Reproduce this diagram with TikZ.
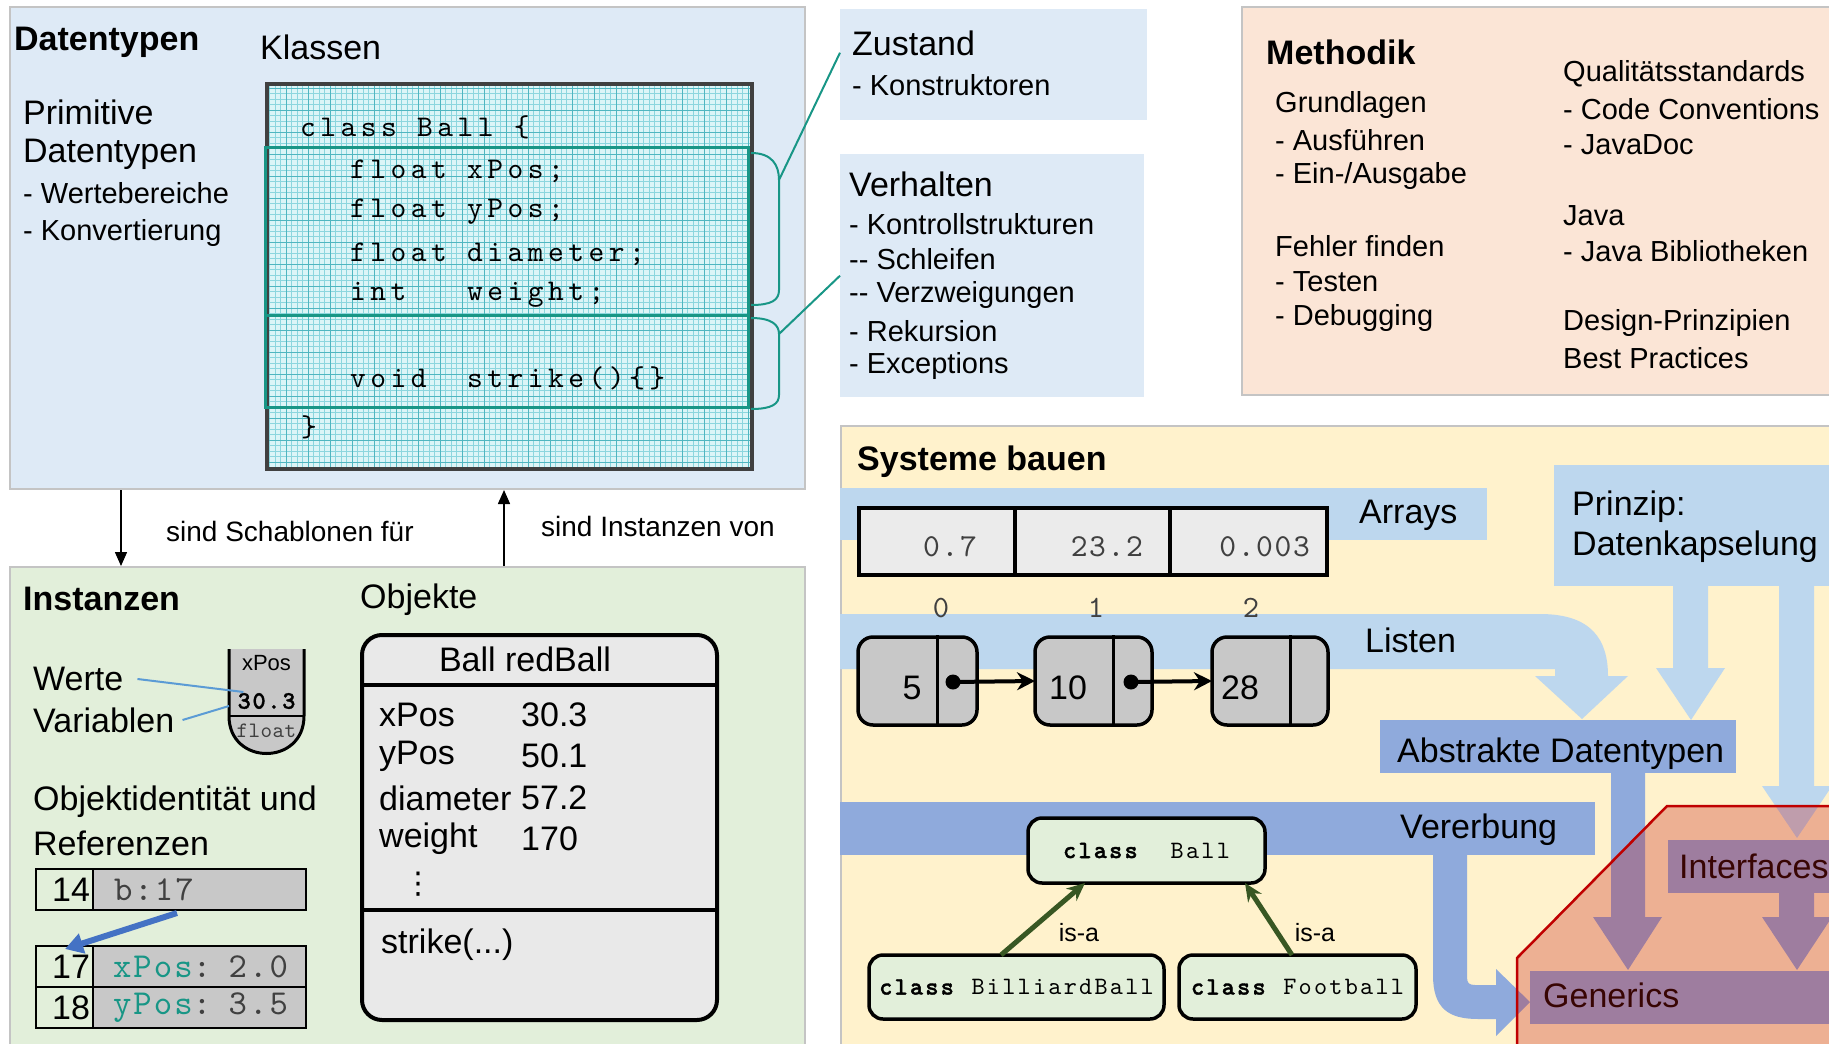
\documentclass[tikz,border=0pt]{standalone}
\usepackage{fontspec}
\setmainfont{Liberation Sans}
\newfontfamily\codefont{lmmono10-regular.otf}[BoldFont=lmmonolt10-bold.otf, BoldFeatures={FakeBold=1.5}]
\newfontfamily\symbolfont{DejaVu Sans}
\usetikzlibrary{arrows.meta,positioning}

\definecolor{panelblue}{RGB}{222,234,246}
\definecolor{panelgreen}{RGB}{226,239,218}
\definecolor{panelpeach}{RGB}{251,229,214}
\definecolor{panelyellow}{RGB}{255,242,204}
\definecolor{panelrand}{RGB}{196,196,196}
\definecolor{bandlight}{RGB}{189,215,238}
\definecolor{banddark}{RGB}{143,170,220}
\definecolor{gridbg}{RGB}{220,245,247}
\definecolor{gridminor}{RGB}{140,214,222}
\definecolor{gridmajor}{RGB}{80,182,192}
\definecolor{tealline}{RGB}{24,150,134}
\definecolor{zellgrau}{RGB}{200,200,200}
\definecolor{objgrau}{RGB}{233,233,233}
\definecolor{arrgrau}{RGB}{235,235,235}
\definecolor{isagruen}{RGB}{56,87,35}
\definecolor{refblau}{RGB}{68,114,196}
\definecolor{linieblau}{RGB}{91,155,213}
\definecolor{rotrand}{RGB}{192,0,0}
\definecolor{rotfill}{RGB}{196,18,11}
\definecolor{codegrau}{RGB}{64,64,64}

\newcommand\gross{\fontsize{34}{40}\selectfont}
\newcommand\mittel{\fontsize{29}{35}\selectfont}
\newcommand\codeschrift[2]{\codefont\fontsize{#1}{#1}\selectfont\addfontfeature{LetterSpace=#2}}

\tikzset{
  panel/.style={draw=panelrand, line width=2pt, anchor=north west, inner sep=0pt},
  txt/.style={anchor=west, inner sep=0pt, font=\gross},
  sub/.style={anchor=west, inner sep=0pt, font=\mittel},
  kopf/.style={anchor=west, inner sep=0pt, font=\gross\bfseries},
  codezeile/.style={anchor=west, inner sep=0pt, font={\codeschrift{30}{15}}},
  zelladr/.style={draw, line width=2.5pt, anchor=north west, minimum height=41pt, outer sep=0pt,
    text width=51pt, inner xsep=3pt, inner ysep=0pt, align=right, font=\gross},
  zellwert/.style={draw, fill=zellgrau, line width=2.5pt, minimum height=41pt, outer sep=0pt,
    text width=213pt, inner xsep=0pt, inner ysep=0pt, align=left, font={\codeschrift{35}{6}}},
  arrzelle/.style={draw, fill=arrgrau, line width=4pt, anchor=north west, minimum height=67pt,
    inner sep=0pt, outer sep=0pt},
  listknoten/.style={draw, fill=zellgrau, line width=3.5pt, rounded corners=15pt,
    anchor=north west, minimum height=88pt, inner sep=0pt, outer sep=0pt},
  klassbox/.style={draw, fill=panelgreen, line width=3.5pt, rounded corners=14pt,
    anchor=north west, minimum height=64pt, inner sep=0pt, outer sep=0pt, font={\codeschrift{25}{9}}},
  isapfeil/.style={isagruen, line width=5pt, -{Stealth[length=18pt,width=16pt]}},
  panelpfeil/.style={line width=1.5pt, -{Triangle[length=14pt,width=12pt]}}
}

\begin{document}
\begin{tikzpicture}[x=1pt, y=-1pt]
  \useasboundingbox (0,0) rectangle (1829,1044);

  % Bereiche
  \node[panel, fill=panelblue, minimum width=795pt, minimum height=482pt] (datentypen) at (9,6) {};
  \node[panel, fill=panelgreen, minimum width=795pt, minimum height=500pt] (instanzen) at (9,566) {};
  \node[panel, fill=panelpeach, minimum width=620pt, minimum height=388pt] (methodik) at (1241,6) {};
  \node[panel, fill=panelyellow, minimum width=1020pt, minimum height=640pt] (systeme) at (840,425) {};
  \node[anchor=north west, fill=panelblue, minimum width=307pt, minimum height=111pt, inner sep=0pt] (zustand) at (840,9) {};
  \node[anchor=north west, fill=panelblue, minimum width=304pt, minimum height=243pt, inner sep=0pt] (verhalten) at (840,154) {};

  % Datentypen
  \node[kopf] (tDaten) at (14,42) {Datentypen};
  \node[txt] (tKlassen) at (260,47) {Klassen};
  \node[txt] (tPrim) at (23,112) {Primitive};
  \node[txt] (tPrimB) at (23,154) {Datentypen};
  \node[sub] (tWerteb) at (23,193) {- Wertebereiche};
  \node[sub] (tKonv) at (23,233) {- Konvertierung};

  % Klasse auf Karopapier
  \fill[gridbg] (265,82) rectangle (750,467);
  \draw[gridminor, line width=0.6pt, step=5.5pt] (265pt,-467pt) grid (750pt,-82pt);
  \draw[gridmajor, line width=0.8pt, step=22pt] (265pt,-467pt) grid (750pt,-82pt);
  \node[draw=darkgray, line width=4pt, anchor=north west, minimum width=485pt, minimum height=385pt, inner sep=0pt] (klasse) at (265,82) {};
  \draw[tealline, line width=3pt] (265,147) rectangle (748,315);
  \draw[tealline, line width=3pt] (265,315) rectangle (748,407);
  \foreach \x/\y/\t [count=\i] in {300/127/{class Ball \{}, 350/171/{float xPos;}, 350/212/{float yPos;},
      350/254/{float diameter;}, 350/295/{int\ \ \ weight;}, 350/378/{void\ \ strike()\{\}}, 301/427/{\}}}
    \node[codezeile] (code\i) at (\x,\y) {\t};

  % Klammern zu Zustand und Verhalten
  \draw[tealline, line width=2pt] (751,153) .. controls (772,153) and (779,165) .. (779,180)
    -- (779,290) .. controls (779,300) and (772,305) .. (751,305);
  \draw[tealline, line width=2pt] (751,318) .. controls (772,318) and (779,325) .. (779,334)
    -- (779,395) .. controls (779,404) and (772,409) .. (751,409);
  \coordinate (kAttr) at (779,180);
  \coordinate (kMeth) at (779,334);
  \draw[tealline, line width=2pt] (kAttr) -- ([yshift=12pt]zustand.west);
  \draw[tealline, line width=2pt] (kMeth) -- (verhalten.west);

  \node[txt] (tZustand) at (852,43) {Zustand};
  \node[sub] (tKonstr) at (852,85) {- Konstruktoren};
  \node[txt] (tVerhalten) at (849,184) {Verhalten};
  \foreach \y/\t [count=\i] in {224/{- Kontrollstrukturen}, 259/{-{}- Schleifen}, 295/{-{}- Verzweigungen},
      331/{- Rekursion}, 366/{- Exceptions}}
    \node[sub] (verh\i) at (849,\y) {\t};

  % Methodik
  \node[kopf] (tMethodik) at (1266,52) {Methodik};
  \foreach \y/\t [count=\i] in {105/Grundlagen, 140/{- Ausführen}, 176/{- Ein-/Ausgabe},
      246/{Fehler finden}, 282/{- Testen}, 318/{- Debugging}}
    \node[sub] (mL\i) at (1275,\y) {\t};
  \foreach \y/\t [count=\i] in {74/Qualitätsstandards, 109/{- Code Conventions}, 145/{- JavaDoc},
      216/Java, 251/{- Java Bibliotheken}, 323/{Design-Prinzipien}, 358/{Best Practices}}
    \node[sub] (mR\i) at (1563,\y) {\t};

  % Schablonen / Instanzen
  \draw[panelpfeil] ([xshift=112pt]datentypen.south west) -- ([xshift=112pt]instanzen.north west);
  \draw[panelpfeil] ([xshift=495pt]instanzen.north west) -- ([xshift=495pt]datentypen.south west);
  \node[anchor=west, inner sep=0pt, font=\fontsize{28}{33}\selectfont] (tSchab) at (166,531) {sind Schablonen für};
  \node[anchor=west, inner sep=0pt, font=\fontsize{28}{33}\selectfont] (tInst) at (541,526) {sind Instanzen von};

  % Instanzen
  \node[kopf] (tInstanzen) at (23,599) {Instanzen};
  \node[txt] (tObjekte) at (360,600) {Objekte};
  \node[txt] (tWerte) at (33,679) {Werte};
  \node[txt] (tVar) at (33,720) {Variablen};
  \filldraw[fill=zellgrau, line width=3pt] (229,649) -- (229,716) .. controls (229,766) and (304,766) .. (304,716) -- (304,649);
  \draw[line width=2.5pt] (229,716) -- (304,716);
  \node[inner sep=0pt, font=\fontsize{22}{26}\selectfont] (vName) at (266.5,663) {xPos};
  \node[inner sep=0pt, font={\codeschrift{25}{7}\bfseries}] (vWert) at (266.5,701) {30.3};
  \node[inner sep=0pt, font={\codeschrift{22}{2}}, text=codegrau] (vTyp) at (266.5,731) {float};
  \coordinate (vLinks) at (229,706);
  \draw[linieblau, line width=2pt] ([xshift=14pt]tWerte.east) -- ([xshift=6pt,yshift=9pt]vWert.west);
  \draw[linieblau, line width=2pt] ([xshift=8pt]tVar.east) -- (vLinks);

  \node[txt] (tIdent) at (33,802) {Objektidentität und};
  \node[txt] (tRef) at (33,843) {Referenzen};
  \node[zelladr] (a14) at (36,869) {14};
  \node[zellwert, right=0pt of a14] (w14) {\hspace*{21pt}\textcolor{codegrau}{b:17}};
  \node[zelladr] (a17) at (36,946) {17};
  \node[zellwert, right=0pt of a17] (w17) {\hspace*{20pt}\textcolor{tealline}{xPos}\textcolor{codegrau}{: 2.0}};
  \node[zelladr, below=0pt of a17] (a18) {18};
  \node[zellwert, right=0pt of a18] (w18) {\hspace*{20pt}\textcolor{tealline}{yPos}\textcolor{codegrau}{: 3.5}};
  \draw[refblau, line width=6pt, -{Triangle[length=18pt,width=20pt]}] ([xshift=84pt,yshift=-3pt]w14.south west) -- ([xshift=29pt,yshift=-3pt]a17.north west);

  % Objekt
  \node[draw, line width=4pt, rounded corners=20pt, fill=objgrau, anchor=north west,
    minimum width=355pt, minimum height=385pt, inner sep=0pt] (obj) at (360,633) {};
  \draw[line width=4pt] ([yshift=-52pt]obj.north west) -- ([yshift=-52pt]obj.north east);
  \draw[line width=4pt] ([yshift=-277pt]obj.north west) -- ([yshift=-277pt]obj.north east);
  \node[inner sep=0pt, font=\gross] (objTitel) at (525,659) {Ball redBall};
  \foreach \y/\n/\w [count=\i] in {715/xPos/30.3, 756/yPos/50.1, 798/diameter/57.2, 839/weight/170} {
    \node[txt] (feld\i) at (379,\y) {\n};
    \node[txt] (wert\i) at (521,\y) {\w};
  }
  \node[inner sep=0pt, font=\symbolfont\fontsize{30}{34}\selectfont] (objPunkte) at (418,884) {⋮};
  \node[txt] (objMeth) at (381,945) {strike(...)};

  % Systeme bauen: Baender
  \node[kopf] (tSysteme) at (857,462) {Systeme bauen};
  \fill[bandlight] (840,488) rectangle (1487,540);
  \fill[bandlight] (840,614) -- (1540,614) .. controls (1592,614) and (1608,640) .. (1608,676)
    -- (1628,676) -- (1582,719) -- (1535,676) -- (1555,676) -- (1555,669) -- (840,669) -- cycle;
  \fill[bandlight] (1554,465) rectangle (1860,586);
  \fill[bandlight] (1673,586) -- (1673,668) -- (1656,668) -- (1691,720) -- (1725,668) -- (1708,668) -- (1708,586) -- cycle;
  \fill[bandlight] (1779,586) -- (1779,786) -- (1762,786) -- (1797,838) -- (1832,786) -- (1814,786) -- (1814,586) -- cycle;
  \fill[banddark] (1380,720) rectangle (1736,773);
  \fill[banddark] (1611,773) -- (1611,917) -- (1593,917) -- (1628,970) -- (1662,917) -- (1645,917) -- (1645,773) -- cycle;
  \fill[banddark] (840,802) rectangle (1595,855);
  \fill[banddark] (1433,855) -- (1433,975) .. controls (1433,1008) and (1448,1019) .. (1478,1019)
    -- (1496,1019) -- (1496,1036) -- (1530,1002) -- (1496,969) -- (1496,985) -- (1475,985)
    .. controls (1469,985) and (1467,983) .. (1467,977) -- (1467,855) -- cycle;
  \fill[banddark] (1668,840) rectangle (1860,893);
  \fill[banddark] (1779,893) -- (1779,917) -- (1762,917) -- (1797,970) -- (1832,917) -- (1814,917) -- (1814,893) -- cycle;
  \fill[banddark] (1530,971) rectangle (1860,1024);

  \node[txt] (tArrays) at (1359,515) {Arrays};
  \node[txt] (tListen) at (1365,640) {Listen};
  \node[txt] (tPrinzip) at (1572,507) {Prinzip:};
  \node[txt] (tKapsel) at (1572,547) {Datenkapselung};
  \node[txt] (tADT) at (1397,754) {Abstrakte Datentypen};
  \node[txt] (tVererb) at (1400,830) {Vererbung};
  \node[txt] (tInterf) at (1679,866) {Interfaces};
  \node[txt] (tGener) at (1543,995) {Generics};

  % Array
  \node[arrzelle, minimum width=156pt] (arr0) at (859,508) {};
  \node[arrzelle, minimum width=155pt, right=0pt of arr0] (arr1) {};
  \node[arrzelle, minimum width=157pt, right=0pt of arr1] (arr2) {};
  \foreach \x/\t [count=\i] in {977/0.7, 1143/23.2, 1310/0.003}
    \node[anchor=east, inner sep=0pt, font={\codeschrift{32}{5}}, text=codegrau] (arrWert\i) at (\x,547) {\t};
  \foreach \x/\t [count=\i] in {941/0, 1096/1, 1251/2}
    \node[inner sep=0pt, font={\codeschrift{31}{0}}, text=codegrau] (idx\i) at (\x,608) {\t};

  % Liste
  \node[listknoten, minimum width=119pt] (l0) at (858,637) {};
  \node[listknoten, minimum width=117pt] (l1) at (1035,637) {};
  \node[listknoten, minimum width=116pt] (l2) at (1212,637) {};
  \foreach \k/\d in {l0/79, l1/78, l2/78}
    \draw[line width=3pt] ([xshift=\d pt,yshift=2pt]\k.north west) -- ([xshift=\d pt,yshift=-2pt]\k.south west);
  \node[inner sep=0pt, font=\gross] (lw0) at (912,688) {5};
  \node[inner sep=0pt, font=\gross] (lw1) at (1068,688) {10};
  \node[inner sep=0pt, font=\gross] (lw2) at (1240,688) {28};
  \node[circle, fill, inner sep=0pt, minimum size=15pt] (p0) at (953,682) {};
  \node[circle, fill, inner sep=0pt, minimum size=15pt] (p1) at (1131,682) {};
  \draw[line width=4pt, -{Stealth[length=18pt,width=18pt]}] (p0.center) -- (l1.west);
  \draw[line width=4pt, -{Stealth[length=18pt,width=18pt]}] (p1.center) -- (l2.west);

  % Vererbung
  \node[klassbox, minimum width=237pt, minimum height=65pt] (kBall) at (1028,818) {\textbf{class}\ \ Ball};
  \node[klassbox, minimum width=295pt] (kBill) at (869,955) {\textbf{class} BilliardBall};
  \node[klassbox, minimum width=237pt] (kFoot) at (1179,955) {\textbf{class} Football};
  \draw[isapfeil] ([xshift=132pt]kBill.north west) -- ([xshift=57pt]kBall.south west);
  \draw[isapfeil] ([xshift=113pt]kFoot.north west) -- ([xshift=217pt]kBall.south west);
  \node[inner sep=0pt, font=\fontsize{25}{30}\selectfont] (isa1) at (1079,933) {is-a};
  \node[inner sep=0pt, font=\fontsize{25}{30}\selectfont] (isa2) at (1315,933) {is-a};

  % Generics-Bereich
  \fill[rotfill, fill opacity=0.29] (1517,1060) -- (1517,958) -- (1667,806) -- (1860,806) -- (1860,1060) -- cycle;
  \draw[rotrand, line width=2.5pt] (1517,1060) -- (1517,958) -- (1667,806) -- (1860,806);
\end{tikzpicture}
\end{document}
